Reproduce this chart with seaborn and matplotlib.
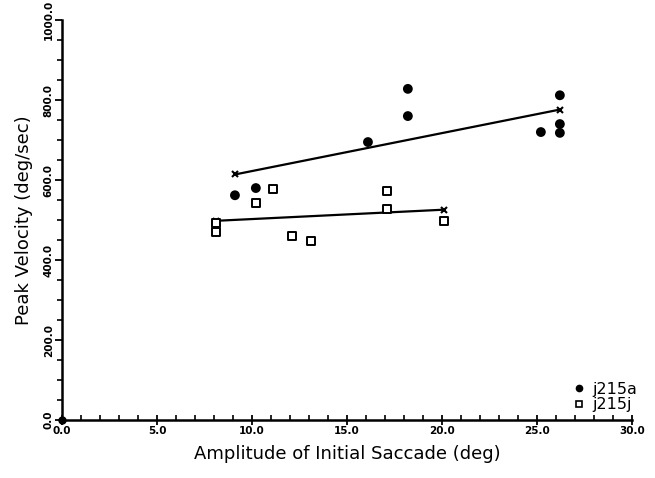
import numpy as np
import pandas as pd
import matplotlib
matplotlib.use("Agg")
import matplotlib.pyplot as plt
from matplotlib.ticker import MultipleLocator, FormatStrFormatter
import seaborn as sns

# values
amp_a = [9.1, 10.2, 16.1, 18.2, 18.2, 25.2, 26.2, 26.2, 26.2]
vel_a = [562, 580, 695, 828, 760, 720, 812, 740, 718]
amp_j = [8.1, 8.1, 10.2, 11.1, 12.1, 13.1, 17.1, 17.1, 20.1]
vel_j = [492, 470, 543, 577, 460, 447, 572, 527, 497]
subjects = ["j215a", "j215j"]

df = pd.concat([
    pd.DataFrame({"amp": amp_a, "vel": vel_a, "subject": subjects[0]}),
    pd.DataFrame({"amp": amp_j, "vel": vel_j, "subject": subjects[1]}),
])

sns.set_style("ticks")
plt.rcParams["font.family"] = ["DejaVu Sans"]
plt.rcParams["text.color"] = "black"
plt.rcParams["axes.labelcolor"] = "black"
plt.rcParams["xtick.color"] = "black"
plt.rcParams["ytick.color"] = "black"

fig = plt.figure(figsize=(6.55, 4.78), dpi=100)
ax = fig.add_axes([0.0947, 0.1213, 0.8703, 0.8367])

# regression lines with small end marks
for s in subjects:
    sub = df[df["subject"] == s]
    sns.regplot(data=sub, x="amp", y="vel", scatter=False, ci=None, truncate=True,
                color="black", ax=ax,
                line_kws={"lw": 1.6, "marker": "x", "markersize": 4, "mew": 1.5,
                          "markevery": [0, -1]})

sns.scatterplot(data=df, x="amp", y="vel", style="subject",
                markers={"j215a": "o", "j215j": "s"}, hue="subject",
                palette={"j215a": "black", "j215j": "white"},
                edgecolor="black", linewidth=1.4, s=32, ax=ax, legend=False, zorder=3)

# legend entries
ax.plot([], [], "o", color="black", ms=4.5, label="j215a")
ax.plot([], [], "s", mfc="white", mec="black", mew=1.2, ms=4.5, label="j215j")
ax.legend(loc="lower right", bbox_to_anchor=(1.025, -0.005), frameon=False,
          fontsize=11.5, handlelength=0.6, handletextpad=0.5, labelspacing=0.05,
          borderaxespad=0.2)

ax.set_xlim(0, 30)
ax.set_ylim(0, 1000)
ax.plot([ax.get_xlim()[0]], [ax.get_ylim()[0]], "o", color="black", ms=5, clip_on=False)

ax.xaxis.set_major_locator(MultipleLocator(5))
ax.xaxis.set_minor_locator(MultipleLocator(1))
ax.yaxis.set_major_locator(MultipleLocator(200))
ax.yaxis.set_minor_locator(MultipleLocator(50))
ax.xaxis.set_major_formatter(FormatStrFormatter("%.1f"))
ax.yaxis.set_major_formatter(FormatStrFormatter("%.1f"))

ax.tick_params(axis="x", which="major", direction="inout", length=7, width=1.3,
               labelsize=7.5, pad=1)
ax.tick_params(axis="x", which="minor", direction="in", length=3.5, width=1.2)
ax.tick_params(axis="y", which="major", direction="out", length=5, width=1.3,
               labelsize=7.5, pad=1)
ax.tick_params(axis="y", which="minor", direction="out", length=3.5, width=1.2)
for lab in ax.get_xticklabels() + ax.get_yticklabels():
    lab.set_fontweight("bold")
for lab in ax.get_yticklabels():
    lab.set_rotation(90)
    lab.set_va("center")

for side in ["left", "bottom"]:
    ax.spines[side].set_linewidth(1.8)
    ax.spines[side].set_color("black")
sns.despine(ax=ax)

ax.set_xlabel("Amplitude of Initial Saccade (deg)", fontsize=13, labelpad=6)
ax.set_ylabel("Peak Velocity (deg/sec)", fontsize=13, labelpad=8)

fig.savefig("out.png", dpi=100)
